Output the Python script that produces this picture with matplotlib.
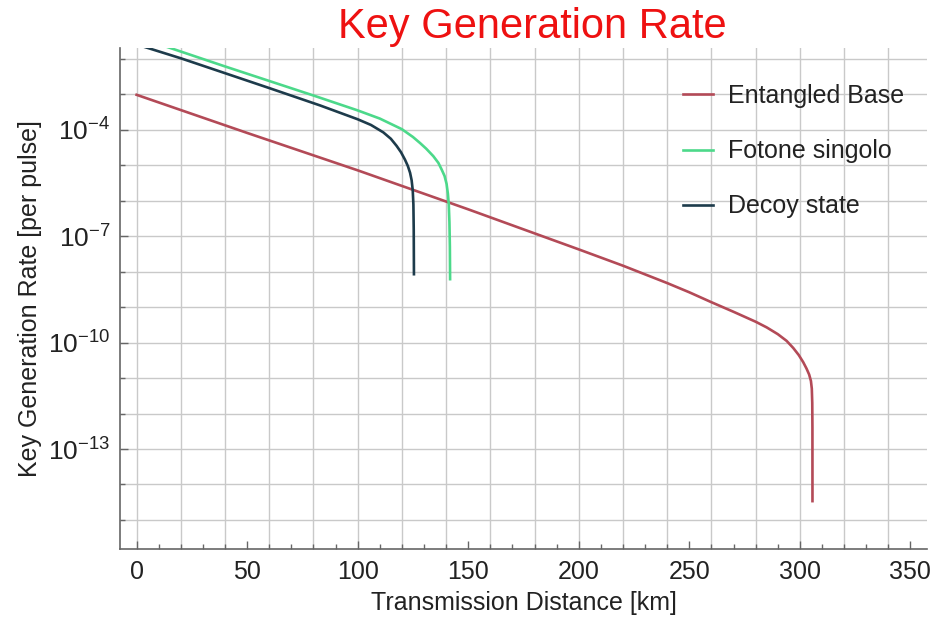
import numpy as np
import matplotlib
matplotlib.use("Agg")
import matplotlib.pyplot as plt
from matplotlib.ticker import FixedLocator, FuncFormatter, NullFormatter

plt.rcParams['font.family'] = ['Liberation Sans', 'DejaVu Sans']
plt.rcParams['mathtext.fontset'] = 'custom'
plt.rcParams['mathtext.rm'] = 'Liberation Sans'
plt.rcParams['mathtext.it'] = 'Liberation Sans:italic'

# values (distance in km, log10 of rate)
entangled_km = [0, 50, 100, 150, 200, 220, 240, 250, 260, 270, 280, 285, 290, 294, 297,
                299.5, 301.5, 303, 304.2, 305, 305.4, 305.6, 305.68, 305.7]
entangled_log = [-3.01, -4.085, -5.14, -6.24, -7.37, -7.83, -8.32, -8.58, -8.86, -9.13, -9.41, -9.57,
                 -9.76, -9.95, -10.15, -10.35, -10.55, -10.73, -10.90, -11.08, -11.3, -11.7, -12.4, -14.47]

single_km = [0, 20, 40, 60, 80, 100, 110, 120, 125, 128.2, 131, 134.2, 136.5, 138, 139.3,
             140.2, 140.8, 141.2, 141.5, 141.7, 141.8]
single_log = [-1.37, -1.79, -2.21, -2.62, -3.03, -3.45, -3.68, -3.98, -4.2, -4.37, -4.53, -4.74, -4.93,
              -5.12, -5.3, -5.52, -5.8, -6.1, -6.6, -7.3, -8.21]

decoy_km = [0, 20, 40, 60, 83, 100, 106, 111.6, 115, 117.6, 119.6, 121.4, 122.7, 123.7, 124.4,
            124.9, 125.2, 125.35, 125.45]
decoy_log = [-1.59, -1.98, -2.40, -2.82, -3.31, -3.70, -3.86, -4.07, -4.25, -4.45, -4.63, -4.84, -5.02,
             -5.21, -5.42, -5.7, -6.1, -6.8, -8.07]

labels = ['Entangled Base', 'Fotone singolo', 'Decoy state']
colors = ['#b34a57', '#4cd98a', '#1d3b4b']

fig = plt.figure(figsize=(9.38, 6.26), dpi=100)
ax = fig.add_axes([120 / 938, 1 - 549 / 626, 807 / 938, 501 / 626])

for km, lg, lab, col in zip([entangled_km, single_km, decoy_km],
                            [entangled_log, single_log, decoy_log], labels, colors):
    ax.plot(km, np.power(10.0, lg), color=col, lw=1.9, label=lab, solid_joinstyle='round')

ax.set_yscale('log')
ax.set_xlim(-7.5, 357.5)
ax.set_ylim(10 ** -15.82, 10 ** -1.69)

# grid: every 20 km, every decade
for gx in range(0, 360, 20):
    ax.axvline(gx, color='#c9c9c9', lw=1.0, zorder=0)
for gy in range(-15, -1):
    ax.axhline(10.0 ** gy, color='#c9c9c9', lw=1.0, zorder=0)

ax.xaxis.set_major_locator(FixedLocator(range(0, 351, 50)))
ax.xaxis.set_minor_locator(FixedLocator(range(0, 360, 10)))
ax.yaxis.set_major_locator(FixedLocator([1e-4, 1e-7, 1e-10, 1e-13]))
ax.yaxis.set_minor_locator(FixedLocator([10.0 ** k for k in range(-15, -1)]))
ax.yaxis.set_major_formatter(FuncFormatter(lambda v, p: r'$10^{%d}$' % round(np.log10(v))))
ax.yaxis.set_minor_formatter(NullFormatter())

ax.tick_params(axis='both', which='major', direction='in', length=6, width=1,
               color='#666666', labelsize=18, labelcolor='#222222', pad=8)
ax.tick_params(axis='both', which='minor', direction='in', length=3.5, width=1, color='#666666')
ax.tick_params(axis='y', which='major', labelsize=19, pad=7)

for s in ['top', 'right']:
    ax.spines[s].set_visible(False)
for s in ['left', 'bottom']:
    ax.spines[s].set_color('#666666')
    ax.spines[s].set_linewidth(1.2)

ax.set_xlabel('Transmission Distance [km]', fontsize=18, color='#222222', labelpad=5)
ax.set_ylabel('Key Generation Rate [per pulse]', fontsize=18, color='#222222', labelpad=4)

fig.text(532 / 938, 1 - 27 / 626, 'Key Generation Rate', color='#ee1111', fontsize=30,
         ha='center', va='center')

leg = ax.legend(loc='upper left', bbox_to_anchor=(683 / 938, 1 - 84 / 626),
                bbox_transform=fig.transFigure, frameon=False, fontsize=18,
                handlelength=1.2, handletextpad=0.6, labelspacing=1.25,
                borderpad=0, borderaxespad=0)
for t in leg.get_texts():
    t.set_color('#222222')

fig.savefig('out.png', dpi=100)
